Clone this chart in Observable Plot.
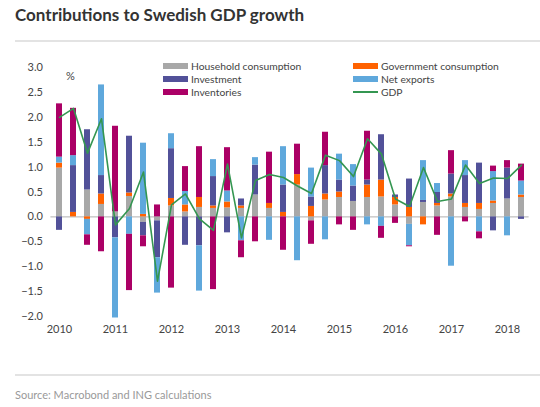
<!DOCTYPE html>
<html>
<head>
<meta charset="utf-8">
<script src="https://cdn.jsdelivr.net/npm/d3@7"></script>
<script src="https://cdn.jsdelivr.net/npm/@observablehq/plot@0.6"></script>
<style>
  body { margin: 0; background: #fff; }
  #wrap { position: relative; width: 540px; height: 407px; font-family: Lato, "Open Sans", sans-serif; color: #333; overflow: hidden; }
  .title { position: absolute; left: 15px; top: 4px; font-size: 17px; font-weight: bold; color: #333; white-space: nowrap; }
  .rule { position: absolute; left: 15px; right: 0; height: 0; border-top: 2px solid #e3e3e3; }
  .source { position: absolute; left: 15px; top: 388px; font-size: 11px; color: #999; white-space: nowrap; }
  #chart { position: absolute; left: 0; top: 48px; }
  .lg { position: absolute; font-size: 10.3px; color: #444; white-space: nowrap; line-height: 13px; }
  .sw { display: inline-block; width: 25px; height: 6px; vertical-align: middle; margin-right: 3px; position: relative; top: -1px; }
</style>
</head>
<body>
<div id="wrap">
  <div class="title">Contributions to Swedish GDP growth</div>
  <div class="rule" style="top:40px"></div>
  <div id="chart"></div>
  <div id="legend"></div>
  <div class="rule" style="top:374px"></div>
  <div class="source">Source: Macrobond and ING calculations</div>
</div>
<script>
const quarters = [
  "2010Q1","2010Q2","2010Q3","2010Q4","2011Q1","2011Q2","2011Q3","2011Q4",
  "2012Q1","2012Q2","2012Q3","2012Q4","2013Q1","2013Q2","2013Q3","2013Q4",
  "2014Q1","2014Q2","2014Q3","2014Q4","2015Q1","2015Q2","2015Q3","2015Q4",
  "2016Q1","2016Q2","2016Q3","2016Q4","2017Q1","2017Q2","2017Q3","2017Q4",
  "2018Q1","2018Q2"
];
const household = [0.98,0,0.54,0.25,0.1,0.41,-0.11,-0.08,0.22,0.1,0.19,0.17,0.18,0.17,0.44,0.17,0,0.64,-0.08,0.34,0.39,0.31,0.39,0.40,0.24,-0.15,0.29,0.22,0.40,0.19,0.15,0.27,0.36,0.39];
const government = [0.1,0.09,-0.05,0.21,0,0.07,0.05,0,0.15,0.14,0.2,0.05,0.12,0.05,0,0.1,0.09,0.21,0.21,0.12,0.11,0,0.25,0.34,0.15,0.19,-0.16,0.05,0.06,0.08,0.12,0.05,0,0.05];
const investment = [-0.27,0.94,1.21,0.37,-0.42,1.14,-0.27,-0.74,1.0,-0.57,-0.58,0.59,-0.32,0.14,0.6,0,0.55,0,0.19,0.57,0.24,0.31,0.1,0.91,0.05,0.57,0.04,0.22,0.40,0.56,0.81,-0.28,0.62,-0.05];
const netExports = [0.12,0.2,-0.31,1.82,-1.61,-0.35,1.43,-0.71,0.3,0.27,-0.91,0.34,0.22,-0.48,0.15,-0.47,0.77,-0.88,0.58,-0.46,0.52,0.43,-0.16,-0.19,0,-0.43,0.8,0.18,-0.99,0.3,-0.30,0.59,-0.38,0.28];
const inventories = [1.07,0.95,-0.21,-0.70,1.72,-1.13,-0.22,0.24,-1.43,0.5,1.02,-1.46,0.87,-0.34,-0.5,1.03,-0.67,0.61,-0.47,0.67,-0.16,-0.27,0.98,-0.24,-0.13,-0.02,0,-0.37,0.47,-0.1,-0.14,0.11,0.15,0.34];
const gdp = [2.0,2.18,1.28,1.97,-0.16,0.17,0.9,-1.29,0.24,0.46,-0.04,-0.27,1.06,-0.42,0.73,0.85,0.79,0.62,0.47,1.24,1.13,0.81,1.57,1.26,0.36,0.21,0.99,0.31,0.36,1.04,0.67,0.78,0.77,1.04];
const yTicks = [-2.0,-1.5,-1.0,-0.5,0.0,0.5,1.0,1.5,2.0,2.5,3.0];

const components = ["Household consumption","Government consumption","Investment","Net exports","Inventories"];
const series = [household, government, investment, netExports, inventories];
const colors = ["#a8a8a8","#ff6200","#525199","#5fa8dc","#ab0066"];
const gdpColor = "#349651";

const rows = [];
components.forEach((c, i) => {
  quarters.forEach((q, j) => rows.push({quarter: q, component: c, value: series[i][j]}));
});
const gdpRows = quarters.map((q, j) => ({quarter: q, gdp: gdp[j]}));

const chart = Plot.plot({
  width: 540,
  height: 293,
  marginTop: 19,
  marginBottom: 25,
  marginLeft: 45.4,
  marginRight: 6.4,
  style: {fontFamily: "Lato, 'Open Sans', sans-serif", fontSize: "11px", color: "#444", background: "transparent"},
  x: {type: "band", domain: quarters, padding: 0.6, label: null, tickSize: 0, tickPadding: 9,
      tickFormat: q => q.endsWith("Q1") ? q.slice(0, 4) : ""},
  y: {domain: [-2, 3], ticks: yTicks, tickFormat: d3.format(".1f"), tickSize: 0, tickPadding: 3, label: null},
  color: {domain: components, range: colors},
  marks: [
    Plot.ruleY([0], {stroke: "#b0b0b0", strokeWidth: 1, insetLeft: 5, insetRight: 5}),
    Plot.barY(rows, {x: "quarter", y: "value", fill: "component"}),
    Plot.line(gdpRows, {x: "quarter", y: "gdp", stroke: gdpColor, strokeWidth: 1.6}),
    Plot.text(["%"], {frameAnchor: "top-left", dx: 20, dy: 5, text: d => d, textAnchor: "start", fill: "#444", fontSize: 11})
  ]
});
document.getElementById("chart").appendChild(chart);

// legend
const legendItems = [
  {label: "Household consumption", color: colors[0], col: 0, row: 0},
  {label: "Investment", color: colors[2], col: 0, row: 1},
  {label: "Inventories", color: colors[4], col: 0, row: 2},
  {label: "Government consumption", color: colors[1], col: 1, row: 0},
  {label: "Net exports", color: colors[3], col: 1, row: 1},
  {label: "GDP", color: gdpColor, col: 1, row: 2, line: true}
];
const colLeft = [163, 353];
const legend = document.getElementById("legend");
legendItems.forEach(it => {
  const d = document.createElement("div");
  d.className = "lg";
  d.style.left = colLeft[it.col] + "px";
  d.style.top = (60 + it.row * 13) + "px";
  const sw = document.createElement("span");
  sw.className = "sw";
  if (it.line) {
    sw.style.height = "2px";
    sw.style.top = "-1px";
  }
  sw.style.background = it.color;
  d.appendChild(sw);
  d.appendChild(document.createTextNode(it.label));
  legend.appendChild(d);
});
</script>
</body>
</html>
